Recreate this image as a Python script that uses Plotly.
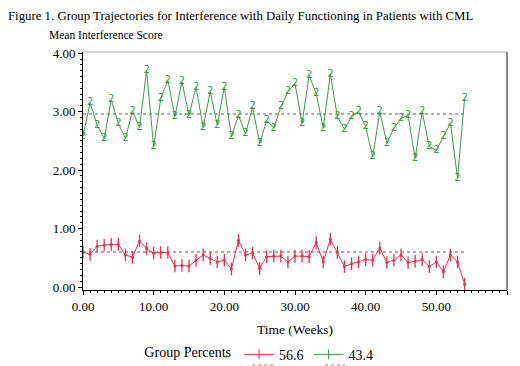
import plotly.graph_objects as go

weeks = list(range(0, 55))
group1_pct = "56.6"
group2_pct = "43.4"

# Group 1 (red) observed means
red_vals = [0.60, 0.56, 0.70, 0.72, 0.73, 0.73, 0.55, 0.51, 0.79, 0.66,
            0.58, 0.59, 0.59, 0.36, 0.37, 0.36, 0.46, 0.55, 0.49, 0.43,
            0.46, 0.31, 0.80, 0.55, 0.58, 0.32, 0.52, 0.53, 0.53, 0.43,
            0.53, 0.53, 0.52, 0.76, 0.43, 0.82, 0.59, 0.35, 0.40, 0.43,
            0.47, 0.46, 0.67, 0.42, 0.46, 0.55, 0.42, 0.44, 0.47, 0.35,
            0.43, 0.26, 0.55, 0.43, 0.05]
# Group 2 (green) observed means
green_vals = [2.58, 3.15, 2.77, 2.54, 3.20, 2.80, 2.54, 3.01, 2.73, 3.70,
              2.40, 3.22, 3.54, 2.92, 3.51, 2.94, 3.42, 2.73, 3.34, 2.77,
              3.42, 2.57, 2.94, 2.62, 3.08, 2.46, 2.85, 2.72, 3.08, 3.34,
              3.48, 2.80, 3.62, 3.31, 2.72, 3.64, 2.91, 2.70, 2.91, 3.00,
              2.74, 2.23, 3.00, 2.46, 2.72, 2.88, 2.94, 2.20, 3.00, 2.40,
              2.34, 2.57, 2.80, 1.86, 3.22]
red_fit = 0.60
green_fit = 2.96

x_ticks = [0, 10, 20, 30, 40, 50, 60]
x_ticktext = ["0.00", "10.00", "20.00", "30.00", "40.00", "50.00", "60.00"]
y_ticks = [0, 1, 2, 3, 4]
y_ticktext = ["0.00", "1.00", "2.00", "3.00", "4.00"]

RED = "#e8304c"
GREEN = "#3a9a48"
SERIF = "Liberation Serif"

fig = go.Figure()

# fitted (dashed) trajectories
fig.add_trace(go.Scatter(x=[weeks[0], weeks[-1]], y=[green_fit, green_fit], mode="lines",
                         line=dict(color="#4d6b4d", width=1, dash="dot"), showlegend=False,
                         hoverinfo="skip"))
fig.add_trace(go.Scatter(x=[weeks[0], weeks[-1]], y=[red_fit, red_fit], mode="lines",
                         line=dict(color="#a04050", width=1, dash="dot"), showlegend=False,
                         hoverinfo="skip"))

# observed trajectories
fig.add_trace(go.Scatter(x=weeks, y=green_vals, mode="lines+text", text=["2"] * len(weeks),
                         textposition="middle center",
                         textfont=dict(family="DejaVu Sans", size=10, color=GREEN),
                         line=dict(color=GREEN, width=1), showlegend=False))
fig.add_trace(go.Scatter(x=weeks, y=red_vals, mode="lines+markers",
                         marker=dict(symbol="line-ns-open", size=9, color=RED,
                                     line=dict(color=RED, width=1.3)),
                         line=dict(color=RED, width=1), showlegend=False))
fig.add_trace(go.Scatter(x=weeks, y=red_vals, mode="markers",
                         marker=dict(symbol="circle", size=3, color=RED),
                         showlegend=False, hoverinfo="skip"))

# legend entries
fig.add_trace(go.Scatter(x=[None], y=[None], mode="lines+markers", name=group1_pct,
                         line=dict(color=RED, width=1),
                         marker=dict(symbol="line-ns-open", size=7, color=RED,
                                     line=dict(color=RED, width=1))))
fig.add_trace(go.Scatter(x=[None], y=[None], mode="lines+markers", name=group2_pct,
                         line=dict(color=GREEN, width=1),
                         marker=dict(symbol="line-ns-open", size=7, color=GREEN,
                                     line=dict(color=GREEN, width=1))))

fig.update_layout(
    width=512, height=358,
    margin=dict(l=75, r=13, t=44, b=76, autoexpand=False),
    paper_bgcolor="white", plot_bgcolor="white",
    font=dict(family=SERIF, size=12, color="black"),
    title=dict(text="Figure 1. Group Trajectories for Interference with Daily Functioning in Patients with CML",
               x=0.0, xanchor="left", y=0.978, yanchor="middle", pad=dict(l=0, t=0),
               font=dict(family=SERIF, size=12.8)),
    showlegend=True,
    legend=dict(orientation="h", x=0.14, xanchor="left", y=-0.205, yanchor="top",
                title=dict(text="Group Percents", font=dict(family=SERIF, size=14)),
                font=dict(family=SERIF, size=14), itemwidth=30, tracegroupgap=0,
                bgcolor="rgba(0,0,0,0)"),
    xaxis=dict(range=[0, 60], tickvals=x_ticks, ticktext=x_ticktext,
               showgrid=False, zeroline=False, showline=True, linecolor="black",
               linewidth=1, ticks="outside", ticklen=4, tickcolor="black",
               minor=dict(dtick=1, ticks="outside", ticklen=2, tickcolor="black", showgrid=False),
               tickfont=dict(family=SERIF, size=13),
               title=dict(text="Time (Weeks)", font=dict(family=SERIF, size=13.5), standoff=11)),
    yaxis=dict(range=[-0.05, 4.02], tickvals=y_ticks, ticktext=y_ticktext,
               showgrid=False, zeroline=False, showline=True, linecolor="black",
               linewidth=1, ticks="outside", ticklen=4, tickcolor="black",
               minor=dict(dtick=0.1, ticks="outside", ticklen=2, tickcolor="black", showgrid=False),
               tickfont=dict(family=SERIF, size=13)),
    annotations=[dict(text="Mean Interference Score", xref="paper", yref="paper",
                      x=-0.085, y=1.071, xanchor="left", yanchor="middle", showarrow=False,
                      font=dict(family=SERIF, size=11.5))],
    shapes=[dict(type="line", xref="paper", yref="paper", x0=0, x1=1, y0=1, y1=1,
                 line=dict(color="#aaaaaa", width=1)),
            dict(type="line", xref="paper", yref="paper", x0=1, x1=1, y0=0, y1=1,
                 line=dict(color="#888888", width=2)),
            # dashed legend samples for the fitted trajectories
            dict(type="line", xref="paper", yref="paper", x0=0.399, x1=0.453, y0=-0.315, y1=-0.315,
                 line=dict(color="#c07080", width=1, dash="dot")),
            dict(type="line", xref="paper", yref="paper", x0=0.571, x1=0.618, y0=-0.315, y1=-0.315,
                 line=dict(color="#709070", width=1, dash="dot"))],
)

fig.write_html("out.html")
